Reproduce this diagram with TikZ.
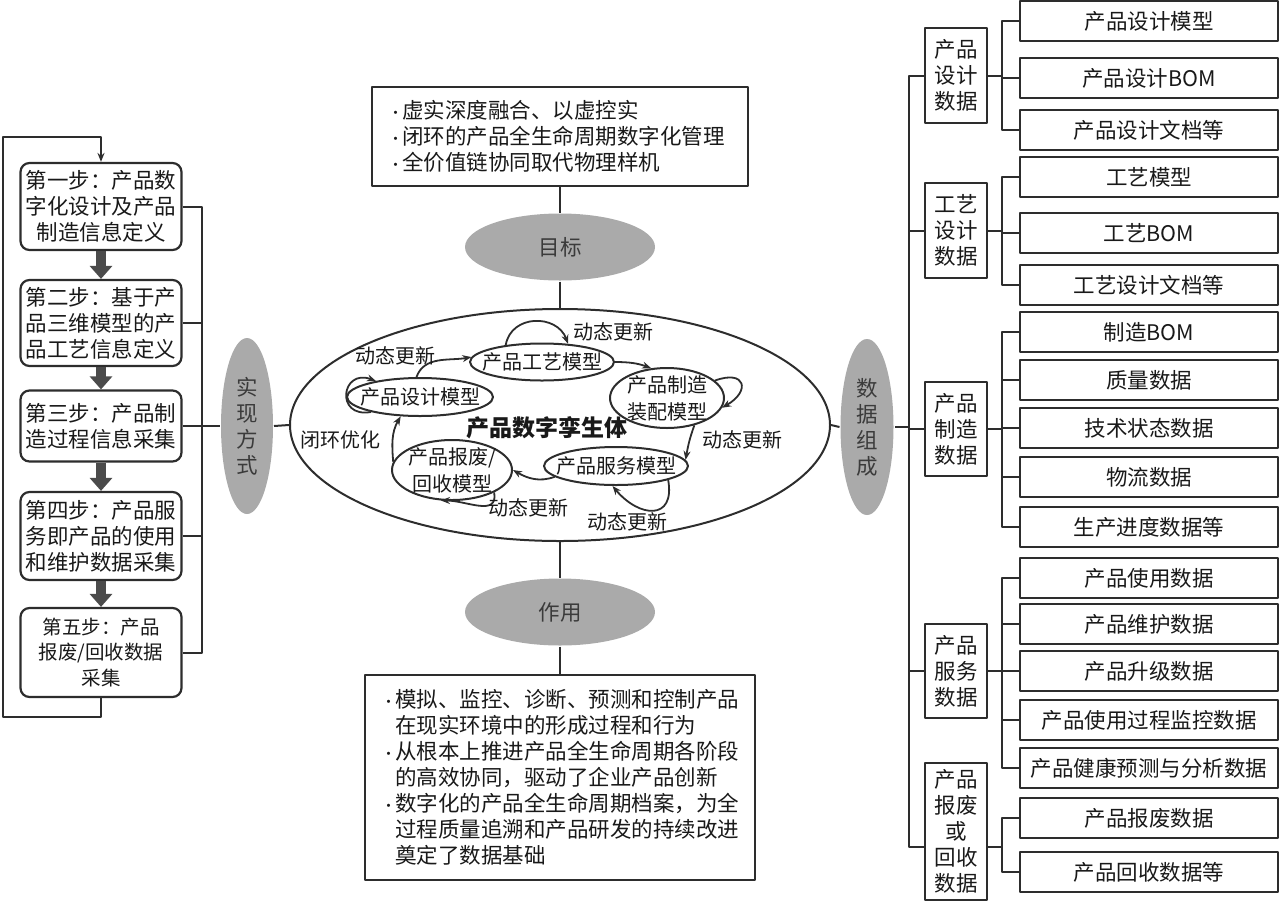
\documentclass[tikz,border=0pt]{standalone}
\usepackage{fontspec}
\setmainfont{Noto Sans CJK SC}
\usetikzlibrary{arrows.meta,shapes.geometric}
\definecolor{ln}{RGB}{45,45,45}
\definecolor{tx}{RGB}{25,25,25}
\definecolor{tagbg}{RGB}{170,170,170}
\definecolor{blkc}{RGB}{75,75,75}
\newcommand{\bul}{\makebox[16pt][l]{\hspace{2pt}{\fontsize{15}{15}\selectfont ·}}}
\newcommand{\ind}{\hspace*{16pt}}
\tikzset{
  every picture/.style={ln, line width=2pt, line join=round, x=1pt, y=1pt,
    >={Stealth[length=9pt,width=7pt]}},
  every node/.style={text=tx, font=\fontsize{21.5}{26}\selectfont},
  % Kaesten
  stepbox/.style={draw, rounded corners=9pt, line width=2.2pt, minimum width=161pt, align=center, inner sep=2pt},
  txtbox/.style={draw, line width=2.2pt, align=left, inner xsep=14pt},
  grp/.style={draw, line width=2.2pt, minimum width=62pt, align=center, inner sep=2pt},
  leaf/.style={draw, line width=2.2pt, minimum width=258pt, minimum height=40pt, inner sep=0pt},
  % Ellipsen
  tag/.style={ellipse, fill=tagbg, inner sep=0pt, align=center, text=tx!85},
  model/.style={ellipse, draw, line width=2pt, inner sep=0pt},
  mtxt/.style={font=\fontsize{20}{27}\selectfont, align=center},
  % Pfeile
  blk/.style={blkc, line width=10pt, -{Triangle[length=13pt,width=22pt]}},
  cyc/.style={->, line width=1.8pt},
}

\begin{document}
\begin{tikzpicture}
  \useasboundingbox (0,0) rectangle (1280,-903);
  % ---------- Schritte ----------
  \node[stepbox, minimum height=87pt] (s1) at (101,-206.5) {第一步：产品数\\字化设计及产品\\制造信息定义};
  \node[stepbox, minimum height=86pt] (s2) at (101,-323) {第二步：基于产\\品三维模型的产\\品工艺信息定义};
  \node[stepbox, minimum height=71pt] (s3) at (101,-426) {第三步：产品制\\造过程信息采集};
  \node[stepbox, minimum height=88pt] (s4) at (101,-536) {第四步：产品服\\务即产品的使用\\和维护数据采集};
  \node[stepbox, minimum height=89pt, font=\fontsize{19.5}{25.5}\selectfont] (s5) at (101,-652.5) {第五步：产品\\报废/回收数据\\采集};
  \foreach \a/\b in {1/2,2/3,3/4,4/5}
    \draw[blk] (s\a.south) -- (s\b.north);
  \coordinate (lp) at (3,-137);
  \draw[->] (s5.south) -- ++(0,-19) -| (lp) -| (s1.north);
  \node[tag, minimum width=52pt, minimum height=176pt] (sx) at (247,-426) {实\\现\\方\\式};
  \foreach \k in {1,...,5}
    \draw (s\k.east) -- ++(19.5,0) |- (sx.west);
  % ---------- Ziel und Wirkung ----------
  \node[txtbox, text width=348pt, minimum height=99pt] (gbox) at (560,-136.5)
    {\bul 虚实深度融合、以虚控实\\\bul 闭环的产品全生命周期数字化管理\\\bul 全价值链协同取代物理样机};
  \node[tag, minimum width=190pt, minimum height=67pt] (mb) at (560,-247) {目标};
  \node[tag, minimum width=190pt, minimum height=67pt] (zy) at (560,-612) {作用};
  \node[txtbox, text width=362pt, minimum height=205pt] (zbox) at (560,-777.5)
    {\bul 模拟、监控、诊断、预测和控制产品\\\ind 在现实环境中的形成过程和行为\\
     \bul 从根本上推进产品全生命周期各阶段\\\ind 的高效协同，驱动了企业产品创新\\
     \bul 数字化的产品全生命周期档案，为全\\\ind 过程质量追溯和产品研发的持续改进\\\ind 奠定了数据基础};
  % ---------- Zwilling ----------
  \node[ellipse, draw, inner sep=0pt, minimum width=540pt, minimum height=232pt] (tw) at (560,-425) {};
  \node[font=\fontsize{23}{26}\selectfont\bfseries] (twl) at (547,-428) {产品数字孪生体};
  \node[model, minimum width=146pt, minimum height=38pt, label={[mtxt]center:产品设计模型}] (m1) at (420,-397) {};
  \node[model, minimum width=144pt, minimum height=37pt, label={[mtxt]center:产品工艺模型}] (m2) at (542,-362) {};
  \node[model, minimum width=114pt, minimum height=60pt, label={[mtxt]center:产品制造\\装配模型}] (m3) at (667,-398) {};
  \node[model, minimum width=144pt, minimum height=38pt, label={[mtxt]center:产品服务模型}] (m4) at (616,-466) {};
  \node[model, minimum width=120pt, minimum height=60pt, label={[mtxt]center:产品报废/\\回收模型}] (m5) at (452,-470) {};
  \draw[cyc] (m1.100) to[out=70, in=190] (m2.176);
  \draw[cyc] (m2.east) to[out=0, in=160] (m3.118);
  \draw[cyc] (m3.-45) to[out=-110, in=80] (m4.5);
  \draw[cyc] (m4.190) to[out=200, in=-30] (m5.east);
  \draw[cyc] (m5.172) to[out=95, in=-120] (m1.-135);
  \draw[cyc] (m1.197) to[out=190, in=160, looseness=3] (m1.160);
  \draw[cyc] (m2.155) to[out=80, in=110, looseness=1.3] (m2.35);
  \draw[cyc] (m3.20) to[out=20, in=30, looseness=3] (m3.-10);
  \draw[cyc] (m4.-15) to[out=-80, in=-50, looseness=1.9] (m4.-100);
  \draw[cyc] (m5.-28) to[out=-80, in=0, looseness=1.2] (m5.-110);
  \node[mtxt] (u1) at (395,-356) {动态更新};
  \node[mtxt] (u2) at (613,-332) {动态更新};
  \node[mtxt] (u3) at (742,-440) {动态更新};
  \node[mtxt] (u4) at (528,-508) {动态更新};
  \node[mtxt] (u5) at (627,-522) {动态更新};
  \node[mtxt] (bh) at (340,-440) {闭环优化};
  \draw (gbox) -- (mb);
  \draw (mb) -- (tw);
  \draw (tw) -- (zy);
  \draw (zy) -- (zbox);
  \draw (sx.east) -- (tw.west);
  % ---------- Datenbaum ----------
  \node[tag, minimum width=53pt, minimum height=176pt] (sj) at (867,-427) {数\\据\\组\\成};
  \draw (tw.east) -- (sj.west);
  \node[grp, minimum height=95pt] (g1) at (956,-75.5) {产品\\设计\\数据};
  \node[grp, minimum height=95pt] (g2) at (956,-230.5) {工艺\\设计\\数据};
  \node[grp, minimum height=94pt] (g3) at (956,-429) {产品\\制造\\数据};
  \node[grp, minimum height=94pt] (g4) at (956,-671) {产品\\服务\\数据};
  \node[grp, minimum height=137pt] (g5) at (956,-831.5) {产品\\报废\\或\\回收\\数据};
  \foreach \i/\y/\t in {1/21/产品设计模型, 2/78/产品设计BOM, 3/130/产品设计文档等,
      4/177/工艺模型, 5/233/工艺BOM, 6/285/工艺设计文档等,
      7/332/制造BOM, 8/380/质量数据, 9/428/技术状态数据, 10/477/物流数据, 11/527/生产进度数据等,
      12/578/产品使用数据, 13/624/产品维护数据, 14/671/产品升级数据, 15/720/产品使用过程监控数据,
      16/768/产品健康预测与分析数据, 17/818/产品报废数据, 18/872/产品回收数据等}
    \node[leaf] (l\i) at (1149,-\y) {\t};
  \foreach \i/\g in {1/1,2/1,3/1,4/2,5/2,6/2,7/3,8/3,9/3,10/3,11/3,12/4,13/4,14/4,15/4,16/4}
    \draw (l\i.west) -- ++(-17,0) |- (g\g.east);
  \foreach \i in {17,18}
    \draw (l\i.west) -- ++(-17,0) |- ([yshift=-15pt]g5.east);
  \foreach \g in {1,...,4}
    \draw (g\g.west) -- ++(-15,0) |- (sj.east);
  \draw ([yshift=-15pt]g5.west) -- ++(-15,0) |- (sj.east);
\end{tikzpicture}
\end{document}
